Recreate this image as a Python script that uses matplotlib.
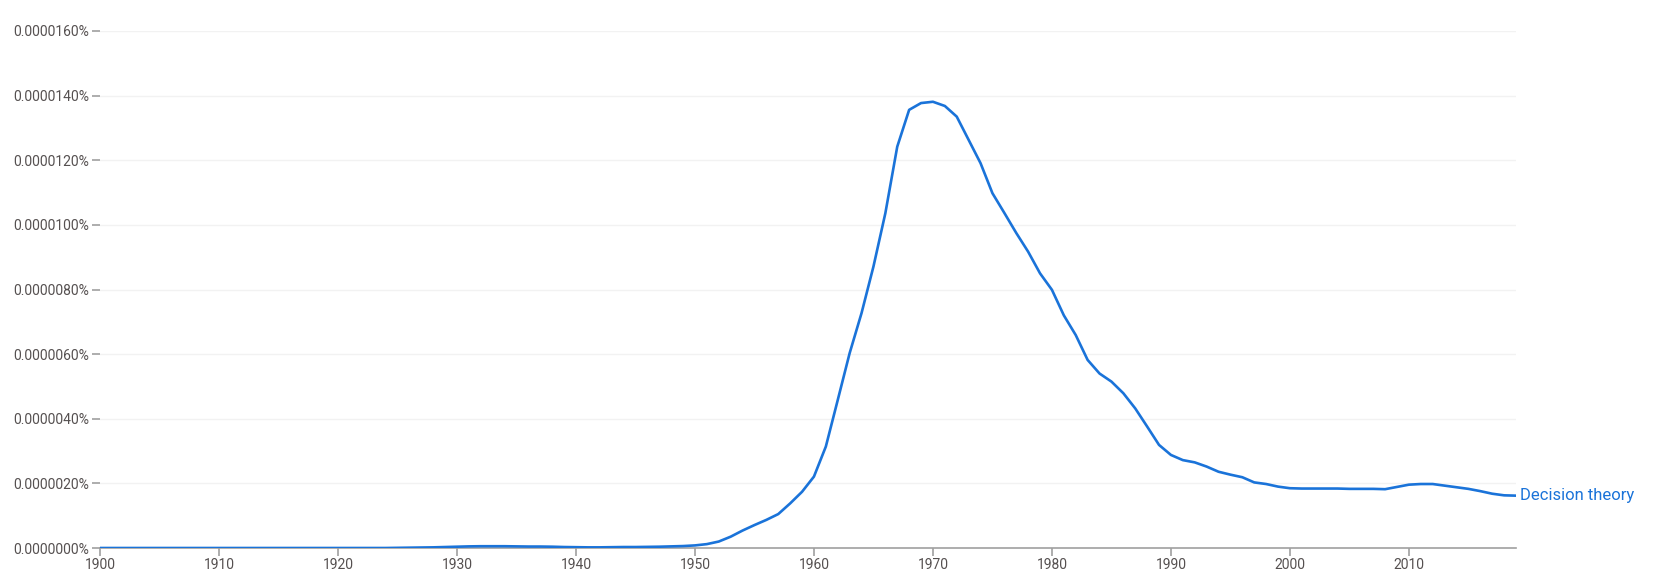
import matplotlib
matplotlib.use("Agg")
import matplotlib.pyplot as plt
from matplotlib.ticker import FuncFormatter, MultipleLocator

# Ngram frequency of "Decision theory", in units of 1e-7 percent
years = list(range(1900, 2020))
freq = (
    [0.0] * 25 +  # 1900-1924
    [0.05, 0.1, 0.15, 0.2, 0.3, 0.4, 0.5, 0.55, 0.55, 0.55,  # 1925-1934
     0.5, 0.45, 0.45, 0.4, 0.3, 0.25, 0.2, 0.2, 0.25, 0.3,   # 1935-1944
     0.3, 0.35, 0.4, 0.5, 0.6,                               # 1945-1949
     0.8, 1.2, 2.0, 3.5, 5.4, 7.1, 8.7, 10.5, 13.8, 17.4,    # 1950-1959
     22.1, 31.4, 45.8, 60.3, 72.7, 87.1, 103.6, 124.2, 135.6, 137.7,  # 1960s
     138.1, 136.8, 133.5, 126.3, 119.1, 109.8, 103.7, 97.5, 91.7, 85.0,  # 1970s
     79.9, 72.0, 65.9, 58.2, 54.0, 51.5, 47.9, 43.2, 37.6, 31.9,  # 1980s
     28.8, 27.2, 26.5, 25.2, 23.6, 22.7, 21.9, 20.3, 19.8, 19.0,  # 1990s
     18.5, 18.4, 18.4, 18.4, 18.4, 18.3, 18.3, 18.3, 18.2, 18.9,  # 2000s
     19.6, 19.8, 19.8, 19.3, 18.8, 18.3, 17.6, 16.8, 16.3, 16.2]  # 2010-2019
)
values = [v * 1e-7 for v in freq]
label = "Decision theory"

line_color = "#1a73d9"
text_color = "#555050"

plt.rcParams['font.family'] = ['Roboto', 'DejaVu Sans']

fig = plt.figure(figsize=(16.57, 5.77), dpi=100)
ax = fig.add_axes([100 / 1657, 1 - 548 / 577, (1516 - 100) / 1657, (548 - 31) / 577])

ax.plot(years, values, color=line_color, linewidth=1.9, solid_joinstyle='round', zorder=3)
ax.text(years[-1] + 0.3, values[-1], label, color=line_color, fontsize=12,
        va='center', ha='left')

ax.set_xlim(1900, 2019)
ax.set_ylim(0, 1.6e-5)
ax.xaxis.set_major_locator(MultipleLocator(10))
ax.yaxis.set_major_locator(MultipleLocator(2e-6))
ax.yaxis.set_major_formatter(FuncFormatter(lambda v, _: f"{v:.7f}%"))

ax.grid(axis='y', color='#f2f2f2', linewidth=1)
ax.set_axisbelow(True)
for side in ['top', 'right', 'left']:
    ax.spines[side].set_visible(False)
ax.spines['bottom'].set_color('#a0a0a0')
ax.spines['bottom'].set_linewidth(1.2)

ax.tick_params(axis='x', colors='#a0a0a0', length=6, width=1.2, labelsize=10,
               labelcolor=text_color, pad=1)
ax.tick_params(axis='y', colors='#a0a0a0', length=6, width=1.2, labelsize=10,
               labelcolor=text_color, pad=2)

fig.savefig("out.png", dpi=100, facecolor='white')
